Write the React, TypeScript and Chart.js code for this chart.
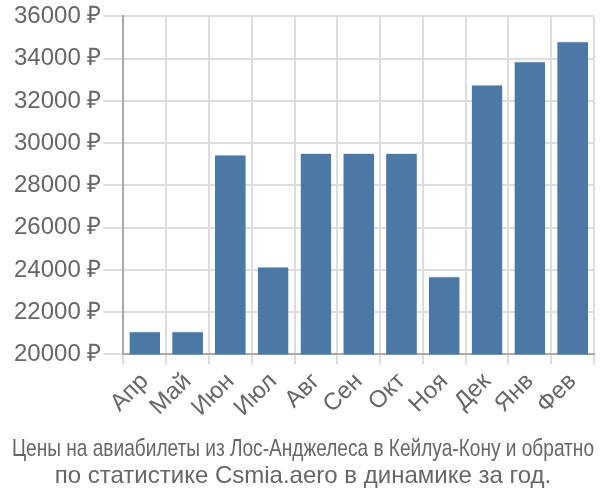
import React, { useEffect, useRef } from "react";
import { Chart, registerables } from "chart.js";

Chart.register(...registerables);

const categories = ["Апр", "Май", "Июн", "Июл", "Авг", "Сен", "Окт", "Ноя", "Дек", "Янв", "Фев"];
const prices = [21100, 21100, 29460, 24160, 29530, 29530, 29530, 23700, 32780, 33880, 34820];
const titleLines = [
  "Цены на авиабилеты из Лос-Анджелеса в Кейлуа-Кону и обратно",
  "по статистике Csmia.aero в динамике за год.",
];
const yMin = 20000;
const yMax = 36000;
const yStep = 2000;

export default function App() {
  const ref = useRef<HTMLCanvasElement | null>(null);
  useEffect(() => {
    if (!ref.current) return;
    const font = "'Liberation Sans', Arial, sans-serif";
    const chart = new Chart(ref.current, {
      type: "bar",
      data: {
        labels: categories,
        datasets: [
          {
            data: prices,
            backgroundColor: "#4c78a6",
            borderColor: "#dfe7f0",
            borderWidth: { top: 1, left: 0, right: 0, bottom: 0 },
            barPercentage: 0.72,
            categoryPercentage: 1,
          },
        ],
      },
      options: {
        animation: false,
        responsive: false,
        maintainAspectRatio: false,
        layout: { padding: { left: 12, right: 6, top: 0, bottom: 0 } },
        plugins: {
          legend: { display: false },
          tooltip: { enabled: false },
          title: {
            display: true,
            position: "bottom",
            text: titleLines,
            color: "#666",
            font: { family: font, size: 24, weight: "normal", lineHeight: 1.12 },
            padding: { top: 11, bottom: 10 },
          },
        },
        scales: {
          x: {
            grid: { color: "#dddddd", lineWidth: 2, tickLength: 10, offset: true },
            border: { color: "#aaaaaa", width: 2 },
            ticks: {
              color: "#666",
              font: { family: font, size: 24 },
              maxRotation: 45,
              minRotation: 45,
              autoSkip: false,
              padding: 3,
            },
          },
          y: {
            min: yMin,
            max: yMax,
            grid: { color: "#dddddd", lineWidth: 2, tickLength: 20 },
            border: { color: "#aaaaaa", width: 2 },
            ticks: {
              stepSize: yStep,
              color: "#666",
              font: { family: font, size: 24 },
              padding: 2,
              callback: (v: any) => `${v} ₽`,
            },
          },
        },
      },
    });
    return () => chart.destroy();
  }, []);
  return (
    <div style={{ position: "fixed", left: 0, top: 0, width: 600, height: 500, background: "#fff" }}>
      <canvas ref={ref} width={600} height={500} />
    </div>
  );
}
